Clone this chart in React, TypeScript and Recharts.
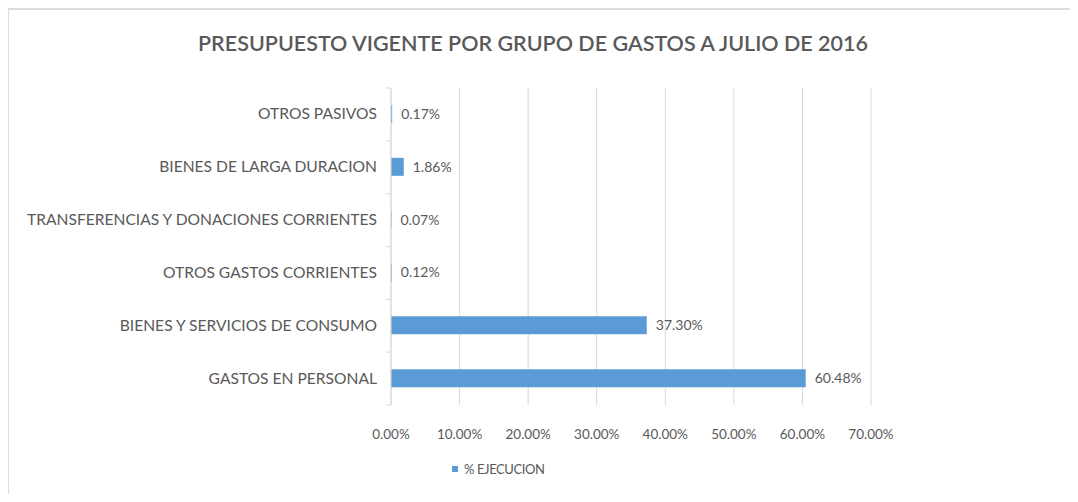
import React from 'react';
import { BarChart, Bar, XAxis, YAxis, CartesianGrid, LabelList } from 'recharts';

const categories = [
  'OTROS PASIVOS',
  'BIENES DE LARGA DURACION',
  'TRANSFERENCIAS Y DONACIONES CORRIENTES',
  'OTROS GASTOS CORRIENTES',
  'BIENES Y SERVICIOS DE CONSUMO',
  'GASTOS EN PERSONAL',
];
const ejecucion = [0.0017, 0.0186, 0.0007, 0.0012, 0.373, 0.6048];
const xTicks = [0, 0.1, 0.2, 0.3, 0.4, 0.5, 0.6, 0.7];
const seriesName = '% EJECUCION';
const title = 'PRESUPUESTO VIGENTE POR GRUPO DE GASTOS A JULIO DE 2016';

const data = categories.map((name, i) => ({ name, value: ejecucion[i] }));

const FONT = 'Lato, "Open Sans", sans-serif';
const TEXT = '#595959';
const BAR = '#5b9bd5';
const fmt = (v: number) => (v * 100).toFixed(2) + '%';

const CatTick = (props: any) => {
  const { x, y, payload, index } = props;
  const off = payload.offset || 0;
  const ax = x + 8;
  return (
    <g>
      <text x={x - 6} y={y} dy={5} textAnchor="end" fill={TEXT} fontSize={15.6} fontFamily={FONT}>
        {payload.value}
      </text>
      <line x1={ax - 5} x2={ax} y1={y - off} y2={y - off} stroke="#d9d9d9" />
      {index === categories.length - 1 && (
        <line x1={ax - 5} x2={ax} y1={y + off} y2={y + off} stroke="#d9d9d9" />
      )}
    </g>
  );
};

export default function App() {
  return (
    <div style={{ position: 'relative', width: 1078, height: 502, margin: -8, background: '#fff', overflow: 'hidden' }}>
      <div style={{ position: 'absolute', left: 7, top: 8, width: 1071, height: 2, background: '#dcdcdc' }} />
      <div style={{ position: 'absolute', left: 7, top: 8, width: 2, height: 494, background: '#dcdcdc' }} />
      <div
        style={{
          position: 'absolute',
          left: 0,
          width: 1066,
          top: 30,
          textAlign: 'center',
          fontFamily: FONT,
          fontSize: 21.5,
          fontWeight: 600,
          color: TEXT,
          whiteSpace: 'nowrap',
        }}
      >
        {title}
      </div>
      <div style={{ position: 'absolute', left: 0, top: 0 }}>
        <BarChart
          width={1078}
          height={502}
          data={data}
          layout="vertical"
          margin={{ top: 88, right: 207, bottom: 67, left: 0 }}
          barCategoryGap={0}
        >
          <CartesianGrid horizontal={false} stroke="#d9d9d9" />
          <XAxis
            type="number"
            domain={[0, 0.7]}
            ticks={xTicks}
            tickFormatter={fmt}
            axisLine={false}
            tickLine={false}
            tickMargin={18}
            height={30}
            tick={{ fill: TEXT, fontSize: 13.5, fontFamily: FONT }}
            interval={0}
          />
          <YAxis
            type="category"
            dataKey="name"
            width={391}
            axisLine={{ stroke: '#d9d9d9' }}
            tickLine={false}
            tick={<CatTick />}
            interval={0}
          />
          <Bar dataKey="value" name={seriesName} fill={BAR} barSize={18} isAnimationActive={false}>
            <LabelList
              dataKey="value"
              position="right"
              offset={9}
              formatter={(v: any) => fmt(Number(v))}
              fill={TEXT}
              fontSize={14}
              fontFamily={FONT}
            />
          </Bar>
        </BarChart>
      </div>
      <div
        style={{
          position: 'absolute',
          left: 452,
          top: 461,
          display: 'flex',
          alignItems: 'center',
          fontFamily: FONT,
          fontSize: 13,
          letterSpacing: -0.4,
          color: TEXT,
          whiteSpace: 'nowrap',
        }}
      >
        <span style={{ display: 'inline-block', width: 6, height: 6, background: BAR, marginRight: 6 }} />
        {seriesName}
      </div>
    </div>
  );
}
